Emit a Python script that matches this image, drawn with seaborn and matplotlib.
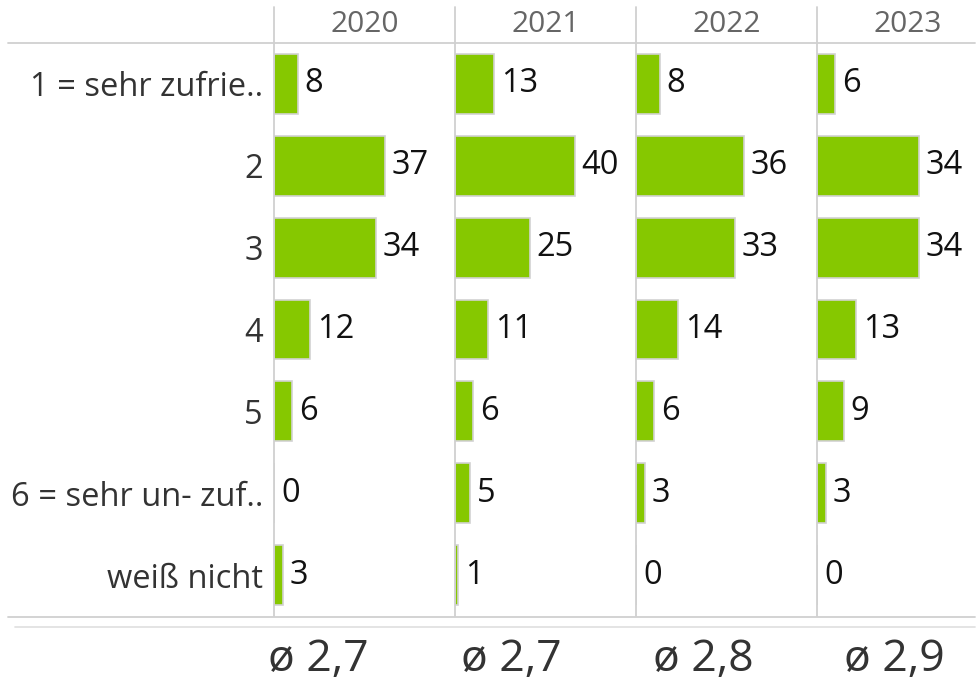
import matplotlib
matplotlib.use("Agg")
import matplotlib.pyplot as plt
import seaborn as sns
import pandas as pd
from matplotlib.lines import Line2D

categories = ["1 = sehr zufrie..", "2", "3", "4", "5", "6 = sehr un- zuf..", "weiß nicht"]
years = ["2020", "2021", "2022", "2023"]
values_2020 = [8, 37, 34, 12, 6, 0, 3]
values_2021 = [13, 40, 25, 11, 6, 5, 1]
values_2022 = [8, 36, 33, 14, 6, 3, 0]
values_2023 = [6, 34, 34, 13, 9, 3, 0]
averages = ["ø 2,7", "ø 2,7", "ø 2,8", "ø 2,9"]

series = [values_2020, values_2021, values_2022, values_2023]

sns.set_theme(style="white")
plt.rcParams["font.family"] = ["Open Sans", "DejaVu Sans"]

W, H = 978, 684
fig = plt.figure(figsize=(W / 100, H / 100), dpi=100)


def fx(px):
    return px / W


def fy(py):
    return 1 - py / H


panel_left = 274
panel_w = 181
top_px = 43
bottom_px = 616
px_per_unit = 2.99

BAR = "#86c800"
EDGE = "#d2d2d2"
LINE = "#d0d0d0"

for i, (year, vals) in enumerate(zip(years, series)):
    df = pd.DataFrame({"category": categories, "value": vals})
    ax = fig.add_axes([fx(panel_left + panel_w * i), fy(bottom_px),
                       fx(panel_w), (bottom_px - top_px) / H])
    sns.barplot(data=df, x="value", y="category", order=categories,
                color=BAR, saturation=1, edgecolor=EDGE, linewidth=1.2,
                width=0.73, ax=ax)
    ax.set_xlim(0, panel_w / px_per_unit)
    ax.set_ylim(len(categories) - 0.5, -0.5)
    for s in ax.spines.values():
        s.set_visible(False)
    ax.set_xticks([])
    ax.set_xlabel("")
    ax.set_ylabel("")
    ax.patch.set_alpha(0)
    if i == 0:
        ax.tick_params(axis="y", length=0, pad=8, labelsize=23.5, labelcolor="#333333")
    else:
        ax.set_yticks([])
    ax.bar_label(ax.containers[0], labels=[str(v) for v in vals], padding=5,
                 fontsize=23.5, color="#111111")
    # year header
    fig.text(fx(panel_left + panel_w * i + panel_w / 2), fy(25), year,
             ha="center", va="center", fontsize=21.5, color="#666666")

# vertical separators
for i in range(4):
    x = panel_left + panel_w * i
    fig.add_artist(Line2D([fx(x), fx(x)], [fy(7), fy(bottom_px)], color=LINE, lw=1.3))

# horizontal lines
fig.add_artist(Line2D([fx(8), fx(975)], [fy(top_px), fy(top_px)], color=LINE, lw=1.3))
fig.add_artist(Line2D([fx(8), fx(975)], [fy(bottom_px + 1), fy(bottom_px + 1)], color=LINE, lw=1.3))
fig.add_artist(Line2D([fx(15), fx(975)], [fy(627), fy(627)], color="#e2e2e2", lw=1.3))

# averages
avg_centers = [318, 511, 703, 894]
for cx, a in zip(avg_centers, averages):
    fig.text(fx(cx), fy(660), a, ha="center", va="center", fontsize=32, color="#333333")

fig.savefig("out.png", dpi=100)
